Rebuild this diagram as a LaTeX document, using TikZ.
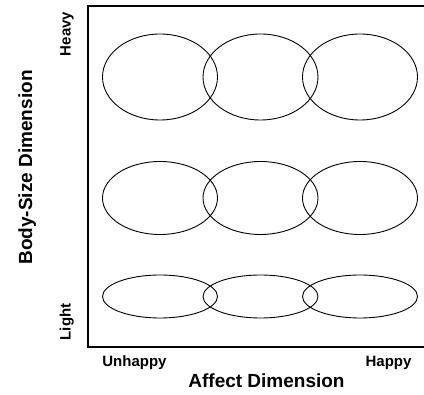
\documentclass[tikz,border=0pt]{standalone}
\usepackage{fontspec}
\setmainfont{Liberation Sans}
\begin{document}
\begin{tikzpicture}[x=1pt,y=-1pt,
  blob/.style={draw=black,line width=0.9pt},
  frameline/.style={draw=black,line width=1.2pt},
  small/.style={font=\fontsize{15}{18}\selectfont\bfseries,inner sep=0pt},
  big/.style={font=\fontsize{19}{22}\selectfont\bfseries,inner sep=0pt}]
\useasboundingbox (0,0) rectangle (424,395);
% frame
\coordinate (tr) at (424,6);
\coordinate (tl) at (88,6);
\coordinate (bl) at (88,347);
\coordinate (br) at (424,347);
\draw[frameline] (tr) -- (tl) -- (bl) -- (br);
% ellipses
\foreach \r/\cy/\ry in {a/77/43, b/198/36.5, c/296.5/21.5}{
  \foreach \c/\cx in {1/160,2/260.5,3/360}{
    \draw[blob] (\cx,\cy) ellipse [x radius=57.5, y radius=\ry];
  }
}
% labels
\node[small,rotate=90,anchor=base] (heavy) at (70.5,34) {Heavy};
\node[small,rotate=90,anchor=base] (light) at (70.5,322) {Light};
\node[big,rotate=90,anchor=base] (bsd) at (32,167.5) {Body-Size Dimension};
\node[small,anchor=base] (unhappy) at (134.5,367) {Unhappy};
\node[small,anchor=base] (happy) at (388.5,367) {Happy};
\node[big,anchor=base] (affect) at (266.5,388) {Affect Dimension};
\end{tikzpicture}
\end{document}
